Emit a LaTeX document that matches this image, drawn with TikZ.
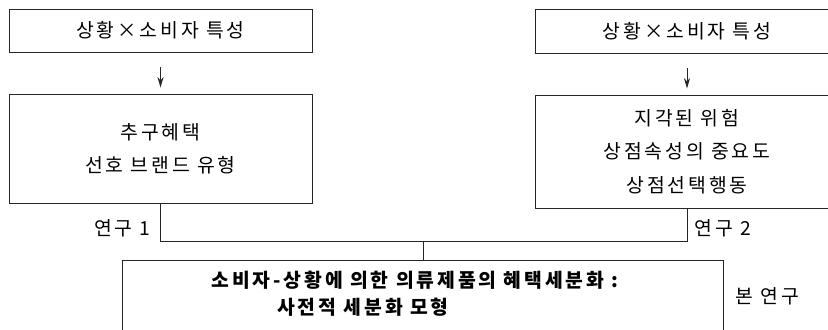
\documentclass[tikz,border=0pt]{standalone}
\usepackage{fontspec}
\setmainfont[LetterSpace=15]{Noto Sans CJK KR}
\usetikzlibrary{arrows.meta}
\tikzset{every node/.style={font=\fontsize{11}{19}\selectfont},
  box/.style={draw=black!85, line width=0.55pt, minimum width=303*0.02cm, align=center, inner sep=0pt},
  lnk/.style={draw=black!85, line width=0.55pt}}

\begin{document}
\begin{tikzpicture}[x=0.02cm, y=-0.02cm]
    \useasboundingbox (0,0) rectangle (828,330);
    % situation x consumer boxes
    \node[box, minimum height=43*0.02cm] (sitA) at (160.5,30.5) {상황×소비자 특성};
    \node[box, minimum height=44*0.02cm] (sitB) at (687,31) {상황×소비자 특성};
    % study boxes
    \node[box, minimum height=109*0.02cm] (resA) at (160.5,148.5) {추구혜택\\선호 브랜드 유형};
    \node[box, minimum height=113*0.02cm] (resB) at (687,151.5) {지각된 위험\\상점속성의 중요도\\상점선택행동};
    % this study
    \node[box, minimum width=601*0.02cm, minimum height=80*0.02cm] (main) at (422.5,300) {};
    \node[font=\fontsize{11}{19}\selectfont\bfseries] (mainA) at (415,280) {소비자-상황에 의한 의류제품의 혜택세분화 :};
    \node[font=\fontsize{11}{19}\selectfont\bfseries] (mainB) at (363,307) {사전적 세분화 모형};
    % labels
    \node[anchor=east, inner sep=0pt] (labA) at (151,228) {연구 1};
    \node[anchor=west, inner sep=0pt] (labB) at (694,228) {연구 2};
    \node[anchor=west, inner sep=0pt] (labC) at (735,296) {본 연구};
    % arrows
    \foreach \s/\t in {sitA/resA, sitB/resB}
      \draw[lnk, -{Stealth[length=6pt, width=3.5pt]}, shorten <=15*0.02cm, shorten >=6*0.02cm] (\s) -- (\t);
    % joining lines
    \coordinate (join) at (423,241);
    \draw[lnk] (resA.south) -- (resA.south |- join) -- (resB.south |- join) -- (resB.south);
    \draw[lnk] (join) -- (join |- main.north);
  \end{tikzpicture}
\end{document}
